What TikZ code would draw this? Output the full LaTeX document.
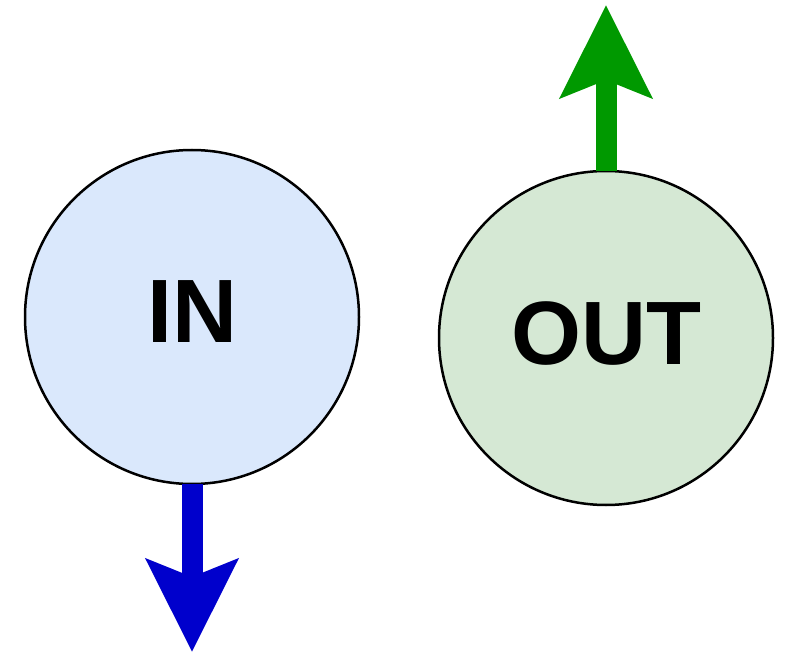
\documentclass[tikz,border=0pt]{standalone}
\usepackage{fontspec}
\setmainfont{Liberation Sans}
\usetikzlibrary{arrows.meta}
\definecolor{inblue}{HTML}{DAE8FC}
\definecolor{outgreen}{HTML}{D5E8D4}
\definecolor{arrblue}{HTML}{0000CC}
\definecolor{arrgreen}{HTML}{009900}
\tikzset{
  port/.style={circle,draw=black,line width=2.5pt,minimum size=334pt,inner sep=0pt,outer sep=0pt,
    text depth=10pt,font=\fontsize{90}{90}\selectfont\bfseries},
  flow/.style={line width=21pt,-{Stealth[length=92pt,width=90pt,inset=17pt]}}
}
\begin{document}
\begin{tikzpicture}[x=1pt,y=-1pt]
\useasboundingbox (0,0) rectangle (790,652);
\node[port,fill=inblue] (in) at (192,317) {IN};
\node[port,fill=outgreen] (out) at (606,338) {OUT};
\coordinate (intip) at (192,652);
\coordinate (outtip) at (606,5);
\draw[flow,arrblue] (in.south) -- (intip);
\draw[flow,arrgreen] (out.north) -- (outtip);
\end{tikzpicture}
\end{document}
